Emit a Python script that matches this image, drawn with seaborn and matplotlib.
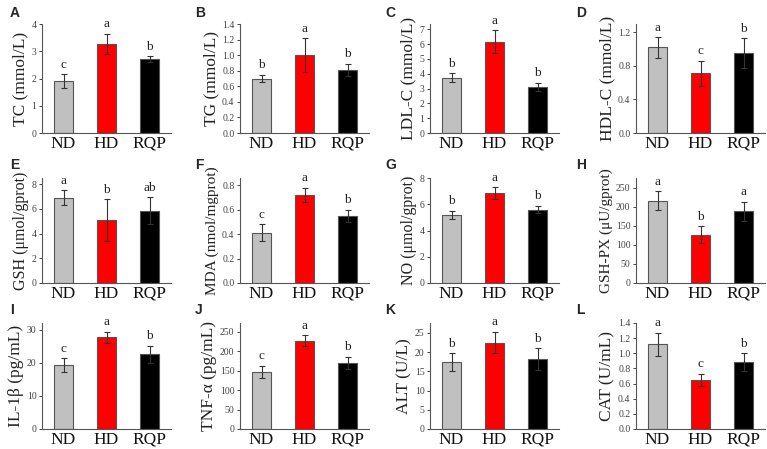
import matplotlib
matplotlib.use('Agg')
import matplotlib.pyplot as plt
import seaborn as sns
import pandas as pd
import numpy as np

# groups and colours
groups = ['ND', 'HD', 'RQP']
bar_colors = ['#c0c0c0', '#ff0000', '#000000']

# one entry per panel (A..L)
panel_tags = ['A', 'B', 'C', 'D', 'E', 'F', 'G', 'H', 'I', 'J', 'K', 'L']
ylabels = ['TC (mmol/L)', 'TG (mmol/L)', 'LDL-C (mmol/L)', 'HDL-C (mmol/L)',
           'GSH (μmol/gprot)', 'MDA (nmol/mgprot)', 'NO (μmol/gprot)', 'GSH-PX (μU/gprot)',
           'IL-1β (pg/mL)', 'TNF-α (pg/mL)', 'ALT (U/L)', 'CAT (U/mL)']
means = [[1.90, 3.27, 2.72],
         [0.70, 1.00, 0.81],
         [3.72, 6.15, 3.10],
         [1.02, 0.71, 0.95],
         [6.90, 5.10, 5.85],
         [0.41, 0.72, 0.55],
         [5.20, 6.85, 5.60],
         [215, 127, 188],
         [19.3, 27.7, 22.5],
         [147, 227, 170],
         [17.4, 22.5, 18.2],
         [1.12, 0.65, 0.88]]
sds = [[0.25, 0.37, 0.10],
       [0.05, 0.22, 0.08],
       [0.30, 0.78, 0.30],
       [0.12, 0.15, 0.18],
       [0.60, 1.70, 1.10],
       [0.07, 0.06, 0.05],
       [0.30, 0.45, 0.28],
       [25, 22, 25],
       [2.0, 1.7, 2.6],
       [15, 14, 15],
       [2.3, 2.8, 2.8],
       [0.15, 0.08, 0.12]]
letters = [['c', 'a', 'b'], ['b', 'a', 'b'], ['b', 'a', 'b'], ['a', 'c', 'b'],
           ['a', 'b', 'ab'], ['c', 'a', 'b'], ['b', 'a', 'b'], ['a', 'b', 'a'],
           ['c', 'a', 'b'], ['c', 'a', 'b'], ['b', 'a', 'b'], ['a', 'c', 'b']]
ytop = [4, 1.4, 7.35, 1.3, 8.5, 0.86, 8, 275, 32, 272, 27.6, 1.4]
yticks = [np.arange(0, 4.1, 1), np.arange(0, 1.41, 0.2), np.arange(0, 7.1, 1),
          [0, 0.4, 0.8, 1.2], [0, 2, 4, 6, 8], [0, 0.2, 0.4, 0.6, 0.8],
          [0, 2, 4, 6, 8], np.arange(0, 251, 50), [0, 10, 20, 30],
          np.arange(0, 251, 50), np.arange(0, 26, 5), np.arange(0, 1.41, 0.2)]
ytick_fmt = ['{:.0f}', '{:.1f}', '{:.0f}', '{:.1f}', '{:.0f}', '{:.1f}',
             '{:.0f}', '{:.0f}', '{:.0f}', '{:.0f}', '{:.0f}', '{:.1f}']
ylabel_sizes = [12.5, 12.5, 12.5, 12.5, 11.5, 11, 11.5, 11, 12.5, 12.5, 12.5, 12.5]

sns.set_style('ticks')
plt.rcParams['font.family'] = ['Liberation Serif', 'DejaVu Serif']

W, H = 767, 449
fig = plt.figure(figsize=(W / 100, H / 100), dpi=100)

col_left = [42, 240, 430, 636]
col_w = 129
row_top = [24, 178, 323]
row_bot = [133, 283, 429]
tag_pos_x = [10, 195, 385, 576]
tag_pos_y = [13, 165, 310]

for i in range(12):
    r, c = divmod(i, 4)
    ax = fig.add_axes([col_left[c] / W, 1 - row_bot[r] / H,
                       col_w / W, (row_bot[r] - row_top[r]) / H])
    df = pd.DataFrame({'group': groups, 'value': means[i]})
    sns.barplot(data=df, x='group', y='value', hue='group', palette=bar_colors,
                saturation=1, width=0.45, errorbar=None, legend=False, ax=ax,
                edgecolor='#555555', linewidth=0.8)
    ax.errorbar(range(3), means[i], yerr=sds[i], fmt='none', ecolor='#333333',
                elinewidth=0.8, capsize=2.2, capthick=0.8)
    for j in range(3):
        ax.annotate(letters[i][j], (j, means[i][j] + sds[i][j]),
                    xytext=(0, 2.5), textcoords='offset points',
                    ha='center', va='bottom', fontsize=9.5, color='#222222')
    ax.set_xlim(-0.5, 2.5)
    ax.set_ylim(0, ytop[i])
    ax.set_yticks(yticks[i])
    ax.set_yticklabels([ytick_fmt[i].format(v) for v in yticks[i]])
    ax.set_xlabel('')
    ax.set_ylabel(ylabels[i], fontsize=ylabel_sizes[i], color='#222222', labelpad=2)
    ax.tick_params(axis='y', labelsize=7, length=2.5, width=0.7, pad=1.5,
                   colors='#444444')
    ax.tick_params(axis='x', labelsize=12.5, length=0, pad=2, labelcolor='#111111')
    for s in ['top', 'right']:
        ax.spines[s].set_visible(False)
    for s in ['left', 'bottom']:
        ax.spines[s].set_linewidth(0.8)
        ax.spines[s].set_color('#555555')
    fig.text(tag_pos_x[c] / W, 1 - tag_pos_y[r] / H, panel_tags[i],
             family=['Liberation Sans', 'DejaVu Sans'], fontweight='bold',
             fontsize=10, ha='left', va='center')

fig.savefig('out.png', dpi=100)
